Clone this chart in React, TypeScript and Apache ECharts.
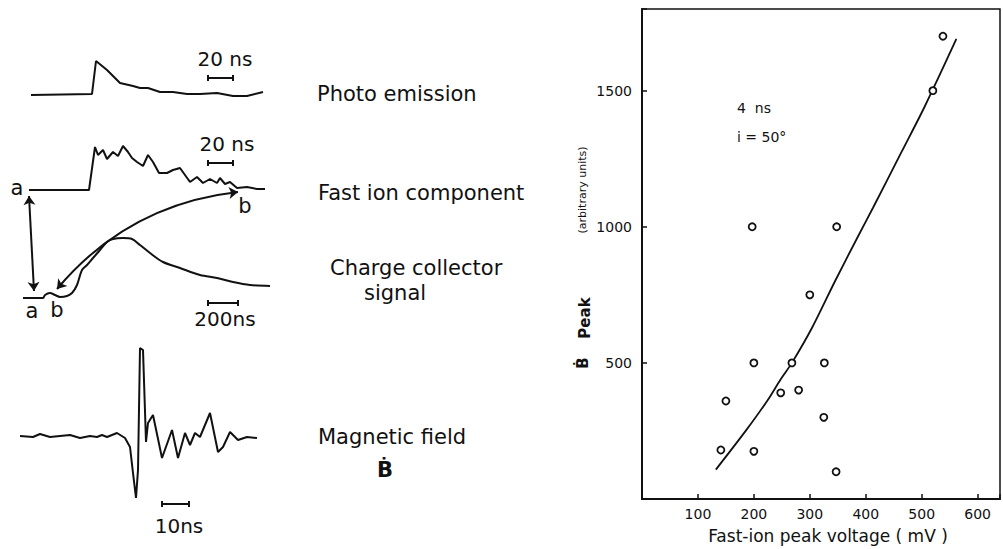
import React, { useEffect, useRef } from "react";
import * as echarts from "echarts";

// ---------- Left panel: oscilloscope traces (t in local px-time units, amplitude above baseline) ----------
const photoEmission = [[11,0],[72,1],[76,34],[87,25],[100,12],[113,9],[120,7],[128,7],[140,3],[153,3],[167,1],[180,1],[197,2],[213,-1],[227,-1],[243,3]];
const fastIon = [[9,0],[69,0],[75,43],[78,35],[83,40],[87,31],[93,38],[98,34],[103,44],[108,38],[112,32],[117,28],[123,24],[128,35],[133,28],[139,17],[147,17],[153,20],[160,22],[165,15],[170,8],[177,13],[183,7],[190,11],[197,7],[200,12],[205,6],[210,8],[217,2],[227,3],[237,1],[245,1]];
const chargeCollector = [[3,0],[23,0],[25,3],[30,5],[35,3],[40,1],[47,2],[52,5],[57,13],[62,28],[67,33],[73,40],[80,48],[87,56],[93,59],[103,60],[112,59],[120,53],[130,45],[143,36],[160,30],[180,23],[197,20],[213,16],[230,13],[250,12]];
const magneticField = [[10,0],[23,-1],[30,2],[40,-1],[50,0],[60,1],[70,-2],[80,0],[87,-1],[92,1],[97,-1],[107,3],[115,-2],[120,-11],[123,-37],[126,-62],[128,-34],[130,88],[133,86],[136,-6],[138,13],[143,21],[152,-22],[162,6],[168,-22],[175,3],[180,-9],[185,3],[190,-1],[200,23],[208,-16],[213,-11],[220,4],[228,-4],[237,-1],[247,-2]];

const traceNames = ["Photo emission", "Fast ion component", "Charge collector", "Magnetic field"];
const scaleBarLabels = ["20 ns", "20 ns", "200ns", "10ns"];

// ---------- Right panel: scatter ----------
const peakVoltage = [538, 520, 197, 348, 300, 200, 268, 326, 248, 280, 150, 141, 200, 325, 347];
const bdotPeak = [1700, 1500, 1000, 1000, 750, 500, 500, 500, 390, 400, 360, 180, 175, 300, 100];
const fitVoltage = [132, 186, 224, 248, 268, 304, 345, 387, 413, 464, 505, 562];
const fitPeak = [108, 252, 361, 440, 500, 629, 800, 968, 1070, 1275, 1440, 1690];
const xTicks = [100, 200, 300, 400, 500, 600];
const yTicks = [500, 1000, 1500];

const INK = "#111";
const FONT = '"DejaVu Sans", sans-serif';

export default function App() {
  const ref = useRef<HTMLDivElement>(null);
  useEffect(() => {
    if (!ref.current) return;
    const chart = echarts.init(ref.current, undefined, { renderer: "svg" });

    const traceGrids = [
      { left: 20, top: 40, width: 260, height: 70, ymin: -15, ymax: 55 },
      { left: 20, top: 130, width: 260, height: 70, ymin: -10, ymax: 60 },
      { left: 20, top: 225, width: 260, height: 80, ymin: -7, ymax: 73 },
      { left: 10, top: 340, width: 270, height: 170, ymin: -74, ymax: 96 },
    ];
    const traces = [photoEmission, fastIon, chargeCollector, magneticField];

    const grids: any[] = traceGrids.map((g) => ({ left: g.left, top: g.top, width: g.width, height: g.height, show: false }));
    const xAxes: any[] = traceGrids.map((g, i) => ({ type: "value", gridIndex: i, min: 0, max: g.width, show: false }));
    const yAxes: any[] = traceGrids.map((g, i) => ({ type: "value", gridIndex: i, min: g.ymin, max: g.ymax, show: false }));

    // annotation grid (1:1 page px)
    grids.push({ left: 0, top: 0, width: 1003, height: 549, show: false });
    xAxes.push({ type: "value", gridIndex: 4, min: 0, max: 1003, show: false });
    yAxes.push({ type: "value", gridIndex: 4, min: 0, max: 549, inverse: true, show: false });

    // main scatter grid
    grids.push({ left: 642, top: 9, right: 1, bottom: 50, show: true, borderColor: INK, borderWidth: 1.5, backgroundColor: "transparent" });
    xAxes.push({
      type: "value", gridIndex: 5, min: 0, max: 640, interval: 100,
      axisLine: { show: true, lineStyle: { color: INK, width: 2 } },
      axisTick: { show: true, inside: true, length: 5, lineStyle: { color: INK, width: 1.5 } },
      splitLine: { show: false },
      axisLabel: {
        color: INK, fontFamily: FONT, fontSize: 14, margin: 8,
        formatter: (v: number) => (xTicks.includes(v) ? String(v) : ""),
      },
    });
    yAxes.push({
      type: "value", gridIndex: 5, min: 0, max: 1800, interval: 500,
      axisLine: { show: true, lineStyle: { color: INK, width: 2 } },
      axisTick: { show: true, inside: true, length: 5, lineStyle: { color: INK, width: 1.5 } },
      splitLine: { show: false },
      axisLabel: {
        color: INK, fontFamily: FONT, fontSize: 14, margin: 10,
        formatter: (v: number) => (yTicks.includes(v) ? String(v) : ""),
      },
    });

    const series: any[] = traces.map((d, i) => ({
      type: "line", xAxisIndex: i, yAxisIndex: i, data: d, symbol: "none",
      smooth: i === 2 ? 0.3 : false,
      lineStyle: { color: INK, width: 2 }, silent: true,
    }));

    series.push({
      type: "lines", coordinateSystem: "cartesian2d", xAxisIndex: 4, yAxisIndex: 4,
      symbol: ["arrow", "arrow"], symbolSize: 9,
      lineStyle: { color: INK, width: 2, opacity: 1 },
      data: [
        { coords: [[29, 196], [34, 291]], lineStyle: { curveness: 0 } },
        { coords: [[238, 192], [57, 289]], lineStyle: { curveness: -0.2 } },
      ],
      silent: true,
    });

    series.push({
      type: "line", xAxisIndex: 5, yAxisIndex: 5,
      data: fitVoltage.map((v, i) => [v, fitPeak[i]]),
      symbol: "none", smooth: 0.3,
      lineStyle: { color: INK, width: 1.8 },
      z: 2,
    });
    series.push({
      type: "scatter", xAxisIndex: 5, yAxisIndex: 5,
      data: peakVoltage.map((v, i) => [v, bdotPeak[i]]),
      symbol: "circle", symbolSize: 7,
      itemStyle: { color: "#ffffff", borderColor: INK, borderWidth: 1.8, opacity: 1 },
      z: 5,
    });

    const txt = (text: string, x: number, y: number, size: number, align = "left", extra: any = {}, weight = "normal") => ({
      type: "text", x, y, ...extra,
      style: { text, fill: INK, font: `${weight} ${size}px ${FONT}`, align, verticalAlign: "middle" },
    });
    const bar = (x1: number, x2: number, y: number) => ({
      type: "group",
      children: [
        { type: "line", shape: { x1, y1: y, x2, y2: y }, style: { stroke: INK, lineWidth: 2 } },
        { type: "line", shape: { x1, y1: y - 3, x2: x1, y2: y + 3 }, style: { stroke: INK, lineWidth: 2 } },
        { type: "line", shape: { x1: x2, y1: y - 3, x2, y2: y + 3 }, style: { stroke: INK, lineWidth: 2 } },
      ],
    });

    const graphic: any[] = [
      txt(traceNames[0], 317, 94, 21),
      txt(traceNames[1], 318, 193, 21),
      txt(traceNames[2], 330, 268, 21),
      txt("signal", 364, 293, 21),
      txt(traceNames[3], 318, 437, 21),
      txt("Ḃ", 385, 470, 21, "center", {}, "bold"),
      txt(scaleBarLabels[0], 225, 59, 20, "center"),
      txt(scaleBarLabels[1], 227, 144, 20, "center"),
      txt(scaleBarLabels[2], 225, 319, 20, "center"),
      txt(scaleBarLabels[3], 179, 526, 20, "center"),
      bar(208, 233, 78),
      bar(208, 233, 163),
      bar(208, 238, 303),
      bar(162, 189, 504),
      txt("a", 17, 188, 21, "center"),
      txt("b", 245, 206, 21, "center"),
      txt("a", 32, 311, 21, "center"),
      txt("b", 57, 310, 21, "center"),
      txt("4  ns", 737, 108, 14),
      txt("i = 50°", 737, 137, 14),
      txt("Ḃ", 583, 363, 15, "center", { rotation: Math.PI / 2 }, "bold"),
      txt("Peak", 585, 318, 15, "center", { rotation: Math.PI / 2 }, "bold"),
      txt("(arbitrary units)", 582, 190, 11, "center", { rotation: Math.PI / 2 }),
      txt("Fast-ion peak voltage ( mV )", 828, 536, 17, "center"),
    ];

    chart.setOption({
      animation: false,
      backgroundColor: "#fff",
      grid: grids,
      xAxis: xAxes,
      yAxis: yAxes,
      series,
      graphic,
    });
    return () => chart.dispose();
  }, []);

  return <div ref={ref} style={{ position: "absolute", left: 0, top: 0, width: 1003, height: 549 }} />;
}
